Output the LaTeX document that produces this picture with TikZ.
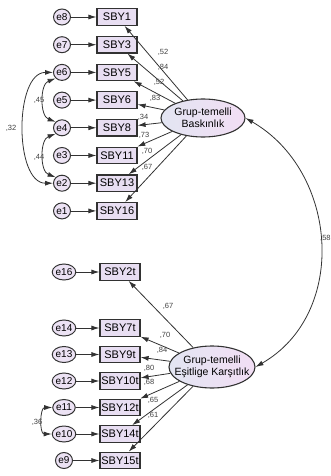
\documentclass[tikz,border=0pt]{standalone}
\usepackage{fontspec}
\setmainfont{Liberation Sans}
\usepackage{tikz}
\usetikzlibrary{shapes.geometric,arrows.meta}

\definecolor{boxfill}{RGB}{232,222,242}
\definecolor{errfill}{RGB}{236,226,244}
\definecolor{latleft}{RGB}{226,229,242}
\definecolor{latright}{RGB}{242,222,244}
\definecolor{edgegray}{RGB}{50,50,50}

\begin{document}
\begin{tikzpicture}[x=1pt, y=1pt, >={Latex[length=8pt,width=5pt]},
    obsbox/.style = {shape=rectangle, draw=edgegray, line width=1.2pt, fill=boxfill, minimum width=40pt, minimum height=16.5pt, inner sep=0pt, font=\fontsize{11}{12}\selectfont},
    errnode/.style = {shape=ellipse, draw=edgegray, line width=1pt, fill=errfill, minimum width=17pt, minimum height=16pt, inner sep=0pt, font=\fontsize{10}{11}\selectfont},
    latent/.style = {shape=ellipse, draw=edgegray, line width=1.1pt, left color=latleft, right color=latright, minimum width=84pt, minimum height=38pt, inner sep=0pt, align=center, font=\fontsize{10.5}{12}\selectfont},
    coef/.style = {inner sep=0pt, text=black!75, font=\fontsize{7.5}{8}\selectfont},
    link/.style = {->, draw=edgegray, line width=0.8pt},
    cov/.style = {<->, draw=edgegray, line width=0.8pt}]
    \useasboundingbox (0,0) rectangle (331,-476);
    % upper factor
    \node[latent] (F1) at (203,-118) {Grup-temelli\\Baskınlık};
    \node[obsbox] (SBY1) at (117,-17) {SBY1};
    \node[obsbox] (SBY3) at (117,-44.7) {SBY3};
    \node[obsbox] (SBY5) at (117,-72.4) {SBY5};
    \node[obsbox] (SBY6) at (117,-100.1) {SBY6};
    \node[obsbox] (SBY8) at (117,-127.8) {SBY8};
    \node[obsbox] (SBY11) at (117,-155.5) {SBY11};
    \node[obsbox] (SBY13) at (117,-183.2) {SBY13};
    \node[obsbox] (SBY16) at (117,-210.9) {SBY16};
    \node[errnode] (e8) at (62,-17) {e8};
    \node[errnode] (e7) at (62,-44.7) {e7};
    \node[errnode] (e6) at (62,-72.4) {e6};
    \node[errnode] (e5) at (62,-100.1) {e5};
    \node[errnode] (e4) at (62,-127.8) {e4};
    \node[errnode] (e3) at (62,-155.5) {e3};
    \node[errnode] (e2) at (62,-183.2) {e2};
    \node[errnode] (e1) at (62,-210.9) {e1};
    % lower factor
    \node[latent, minimum width=86pt, minimum height=42pt, inner xsep=-8pt] (F2) at (212,-367) {Grup-temelli\\Eşitlige Karşıtlık};
    \node[obsbox] (SBY2t) at (120,-272) {SBY2t};
    \node[obsbox] (SBY7t) at (120,-328) {SBY7t};
    \node[obsbox] (SBY9t) at (120,-354.5) {SBY9t};
    \node[obsbox] (SBY10t) at (120,-381) {SBY10t};
    \node[obsbox] (SBY12t) at (120,-407.5) {SBY12t};
    \node[obsbox] (SBY14t) at (120,-434) {SBY14t};
    \node[obsbox] (SBY15t) at (120,-460.5) {SBY15t};
    \node[errnode] (e16) at (64,-272) {e16};
    \node[errnode] (e14) at (64,-328) {e14};
    \node[errnode] (e13) at (64,-354.5) {e13};
    \node[errnode] (e12) at (64,-381) {e12};
    \node[errnode] (e11) at (64,-407.5) {e11};
    \node[errnode] (e10) at (64,-434) {e10};
    \node[errnode] (e9) at (64,-460.5) {e9};
    % errors to items
    \draw[link] (e8) -- (SBY1);
    \draw[link] (e7) -- (SBY3);
    \draw[link] (e6) -- (SBY5);
    \draw[link] (e5) -- (SBY6);
    \draw[link] (e4) -- (SBY8);
    \draw[link] (e3) -- (SBY11);
    \draw[link] (e2) -- (SBY13);
    \draw[link] (e1) -- (SBY16);
    \draw[link] (e16) -- (SBY2t);
    \draw[link] (e14) -- (SBY7t);
    \draw[link] (e13) -- (SBY9t);
    \draw[link] (e12) -- (SBY10t);
    \draw[link] (e11) -- (SBY12t);
    \draw[link] (e10) -- (SBY14t);
    \draw[link] (e9) -- (SBY15t);
    % loadings
    \draw[link] (F1) -- (SBY1);
    \draw[link] (F1) -- (SBY3);
    \draw[link] (F1) -- (SBY5);
    \draw[link] (F1) -- (SBY6);
    \draw[link] (F1) -- (SBY8);
    \draw[link] (F1) -- (SBY11);
    \draw[link] (F1) -- (SBY13);
    \draw[link] (F1) -- (SBY16);
    \draw[link] (F2) -- (SBY2t);
    \draw[link] (F2) -- (SBY7t);
    \draw[link] (F2) -- (SBY9t);
    \draw[link] (F2) -- (SBY10t);
    \draw[link] (F2) -- (SBY12t);
    \draw[link] (F2) -- (SBY14t);
    \draw[link] (F2) -- (SBY15t);
    \node[coef] (l1) at (163,-52) {,52};
    \node[coef] (l3) at (163,-67.5) {,84};
    \node[coef] (l5) at (159,-82) {,52};
    \node[coef] (l6) at (155,-98.5) {,83};
    \node[coef] (l8) at (143,-117.5) {,34};
    \node[coef] (l11) at (144,-135.5) {,73};
    \node[coef] (l13) at (147,-151) {,70};
    \node[coef] (l16) at (147,-167) {,67};
    \node[coef] (l2t) at (168,-306) {,67};
    \node[coef] (l7t) at (165,-335) {,70};
    \node[coef] (l9t) at (162,-350) {,84};
    \node[coef] (l10t) at (149,-368) {,80};
    \node[coef] (l12t) at (149,-382) {,68};
    \node[coef] (l14t) at (153,-400) {,65};
    \node[coef] (l15t) at (153,-415) {,61};
    % covariances
    \draw[cov] (e6.west) to[out=180, in=180, looseness=0.9] (e2.west);
    \draw[cov] (e6.south west) to[out=200, in=160] (e4.north west);
    \draw[cov] (e4.south west) to[out=200, in=160] (e2.north west);
    \draw[cov] (e11.west) to[out=180, in=180, looseness=1.2] (e10.west);
    \draw[cov] (F1.east) to[out=-30, in=30, looseness=1.1] (F2.east);
    \node[coef] (c32) at (11,-128) {,32};
    \node[coef] (c45) at (39,-100) {,45};
    \node[coef] (c44) at (39,-157) {,44};
    \node[coef] (c36) at (37,-422) {,36};
    \node[coef, anchor=west] (c58) at (320,-238) {,58};
\end{tikzpicture}
\end{document}
